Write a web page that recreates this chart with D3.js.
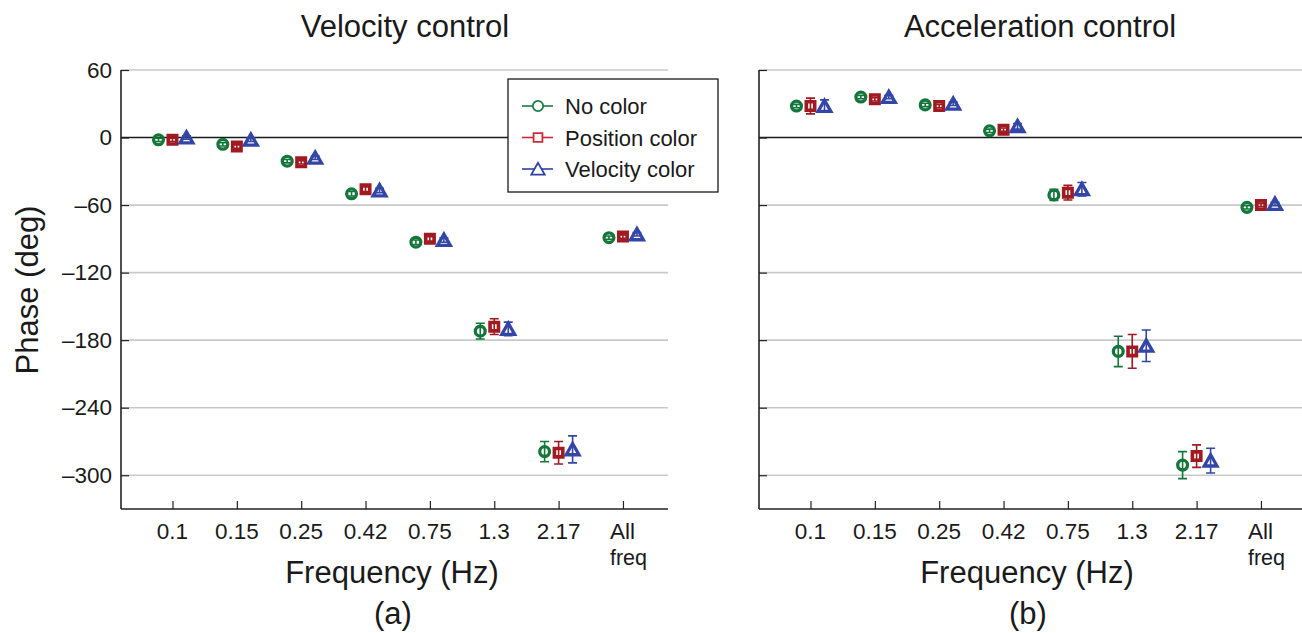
<!DOCTYPE html>
<html>
<head>
<meta charset="utf-8">
<script src="https://cdn.jsdelivr.net/npm/d3@7"></script>
<style>
  html, body { margin: 0; padding: 0; background: #fff; }
  svg { display: block; font-family: "Liberation Sans", Arial, Helvetica, sans-serif; }
</style>
</head>
<body>
<svg id="chart" width="1302" height="633"></svg>
<script>
// Frequency categories along the x axis
const freqLabels = ["0.1", "0.15", "0.25", "0.42", "0.75", "1.3", "2.17", "All"];
const seriesNames = ["No color", "Position color", "Velocity color"];
const yTicks = [60, 0, -60, -120, -180, -240, -300];

// Velocity control: mean phase (deg) and error half-widths
const velNoColor      = [-2, -6, -21, -50, -93, -172, -279, -89];
const velNoColorErr   = [1.5, 1.5, 1.5, 2, 2, 7, 9, 1.5];
const velPosColor     = [-2, -8, -22, -46, -90, -168, -280, -88];
const velPosColorErr  = [1.5, 1.5, 1.5, 2, 2, 7, 10, 1.5];
const velVelColor     = [0, -2, -18, -47, -91, -170, -277, -86];
const velVelColorErr  = [1.5, 1.5, 1.5, 2, 2, 6, 12, 1.5];

// Acceleration control
const accNoColor      = [28, 36, 29, 6, -51, -190, -291, -62];
const accNoColorErr   = [1.5, 1.5, 1.5, 1.5, 5, 13.5, 12, 1.5];
const accPosColor     = [28, 34, 28, 7, -49, -190, -283, -60];
const accPosColorErr  = [7, 1.5, 1.5, 1.5, 6.5, 15, 10, 1.5];
const accVelColor     = [28, 36, 30, 10, -46, -185, -287, -59];
const accVelColorErr  = [5.5, 1.5, 1.5, 2.5, 6, 14, 11, 1.5];

const markColors   = ["#15763b", "#a11a21", "#3346a6"];
const legendColors = ["#1b7b41", "#cc2a36", "#2f41a2"];
const shapes = ["circle", "square", "triangle"];

const svg = d3.select("#chart");
const FONT_TICK = 22.5, FONT_LABEL = 31;

const y = d3.scaleLinear().domain([-330, 60]).range([509, 70]);

function markerPath(shape, s) {
  if (shape === "circle") {
    const r = 4.9 * s;
    return `M${r},0A${r},${r},0,1,1,${-r},0A${r},${r},0,1,1,${r},0Z`;
  }
  if (shape === "square") {
    const h = 4.2 * s;
    return `M${-h},${-h}H${h}V${h}H${-h}Z`;
  }
  const hw = 6.4 * s, top = -5.8 * s, bot = 5.4 * s;
  return `M0,${top}L${hw},${bot}L${-hw},${bot}Z`;
}

function panel(opts) {
  const { x0, x1, title, tag, series, showYLabels } = opts;
  const x = d3.scaleLinear().domain([0.2, 8.7]).range([x0, x1]);
  const g = svg.append("g");

  // horizontal grid lines
  g.selectAll("line.grid").data(yTicks.filter(t => t !== 0)).join("line")
    .attr("x1", x0).attr("x2", x1)
    .attr("y1", d => y(d)).attr("y2", d => y(d))
    .attr("stroke", "#c9c9c9").attr("stroke-width", 1.6);

  // zero reference line
  g.append("line")
    .attr("x1", x0).attr("x2", x1).attr("y1", y(0)).attr("y2", y(0))
    .attr("stroke", "#1a1a1a").attr("stroke-width", 1.6);

  // y axis (inward ticks)
  const yAxis = d3.axisLeft(y).tickValues(yTicks).tickSize(-8).tickPadding(9)
    .tickFormat(d => showYLabels ? (d < 0 ? "\u2013" + Math.abs(d) : String(d)) : "");
  const ya = g.append("g").attr("transform", `translate(${x0},0)`).call(yAxis);
  ya.select(".domain").attr("stroke", "#222").attr("stroke-width", 1.6)
    .attr("d", `M0,${y(60)}V${y(-330)}`);
  ya.selectAll(".tick line").attr("stroke", "#222").attr("stroke-width", 1.2);
  ya.selectAll(".tick text").attr("font-size", FONT_TICK).attr("fill", "#1a1a1a")
    .attr("font-family", "Liberation Sans, Arial, sans-serif");

  // x axis (inward ticks)
  const idx = d3.range(1, freqLabels.length + 1);
  const xAxis = d3.axisBottom(x).tickValues(idx).tickSize(-8).tickFormat("");
  const xa = g.append("g").attr("transform", `translate(0,${y(-330)})`).call(xAxis);
  xa.select(".domain").attr("stroke", "#222").attr("stroke-width", 1.6)
    .attr("d", `M${x0},0H${x1}`);
  xa.selectAll(".tick line").attr("stroke", "#222").attr("stroke-width", 1.2);

  // category labels
  freqLabels.forEach((lab, i) => {
    const cx = x(i + 1);
    if (lab === "All") {
      g.append("text").attr("x", cx - 13).attr("y", 539)
        .attr("font-size", FONT_TICK).attr("fill", "#1a1a1a").text("All");
      g.append("text").attr("x", cx - 13).attr("y", 565)
        .attr("font-size", 21.5).attr("fill", "#1a1a1a").text("freq");
    } else {
      g.append("text").attr("x", cx).attr("y", 539).attr("text-anchor", "middle")
        .attr("font-size", FONT_TICK).attr("fill", "#1a1a1a").text(lab);
    }
  });

  // data: error bars then hollow markers
  const offset = 14;
  series.forEach((s, j) => {
    const pts = s.vals.map((v, i) => ({ cx: x(i + 1) + (j - 1) * offset, v, e: s.errs[i] }));
    const sg = g.append("g");
    sg.selectAll("path.err").data(pts).join("path")
      .attr("d", d => {
        const t = y(d.v + d.e), b = y(d.v - d.e);
        return `M${d.cx},${t}V${b}M${d.cx - 4.5},${t}H${d.cx + 4.5}M${d.cx - 4.5},${b}H${d.cx + 4.5}`;
      })
      .attr("fill", "none").attr("stroke", markColors[j]).attr("stroke-width", 1.6);
    sg.selectAll("path.mk").data(pts).join("path")
      .attr("transform", d => `translate(${d.cx},${y(d.v)})`)
      .attr("d", markerPath(shapes[j], 1))
      .attr("fill", "none").attr("stroke", markColors[j])
      .attr("stroke-width", shapes[j] === "square" ? 3.6 : 3.3)
      .attr("stroke-linejoin", "miter");
  });

  // titles
  svg.append("text").attr("x", opts.titleX).attr("y", 37).attr("text-anchor", "middle")
    .attr("font-size", FONT_LABEL).attr("fill", "#1a1a1a").text(title);
  svg.append("text").attr("x", opts.titleX - 13).attr("y", 583).attr("text-anchor", "middle")
    .attr("font-size", FONT_LABEL).attr("fill", "#1a1a1a").text("Frequency (Hz)");
  svg.append("text").attr("x", opts.titleX - 12).attr("y", 624).attr("text-anchor", "middle")
    .attr("font-size", FONT_LABEL).attr("fill", "#1a1a1a").text(tag);
  return x;
}

panel({
  x0: 121, x1: 668, titleX: 405, title: "Velocity control", tag: "(a)", showYLabels: true,
  series: [
    { vals: velNoColor, errs: velNoColorErr },
    { vals: velPosColor, errs: velPosColorErr },
    { vals: velVelColor, errs: velVelColorErr }
  ]
});
panel({
  x0: 759, x1: 1306, titleX: 1040, title: "Acceleration control", tag: "(b)", showYLabels: false,
  series: [
    { vals: accNoColor, errs: accNoColorErr },
    { vals: accPosColor, errs: accPosColorErr },
    { vals: accVelColor, errs: accVelColorErr }
  ]
});

// y axis title
svg.append("text")
  .attr("transform", "translate(38,290) rotate(-90)")
  .attr("text-anchor", "middle").attr("font-size", FONT_LABEL).attr("fill", "#1a1a1a")
  .text("Phase (deg)");

// legend
const lg = svg.append("g").attr("transform", "translate(508,79)");
lg.append("rect").attr("width", 210).attr("height", 113)
  .attr("fill", "#fff").attr("stroke", "#1a1a1a").attr("stroke-width", 1.3);
seriesNames.forEach((name, j) => {
  const ry = 27 + j * 31.5;
  const row = lg.append("g").attr("transform", `translate(0,${ry})`);
  row.append("line").attr("x1", 14).attr("x2", 45).attr("y1", 0).attr("y2", 0)
    .attr("stroke", legendColors[j]).attr("stroke-width", 1.6);
  row.append("path").attr("transform", "translate(30,0)")
    .attr("d", markerPath(shapes[j], 1.05))
    .attr("fill", "#fff").attr("stroke", legendColors[j]).attr("stroke-width", 1.8);
  row.append("text").attr("x", 57).attr("y", 8).attr("font-size", 22)
    .attr("fill", "#1a1a1a").text(name);
});
</script>
</body>
</html>
